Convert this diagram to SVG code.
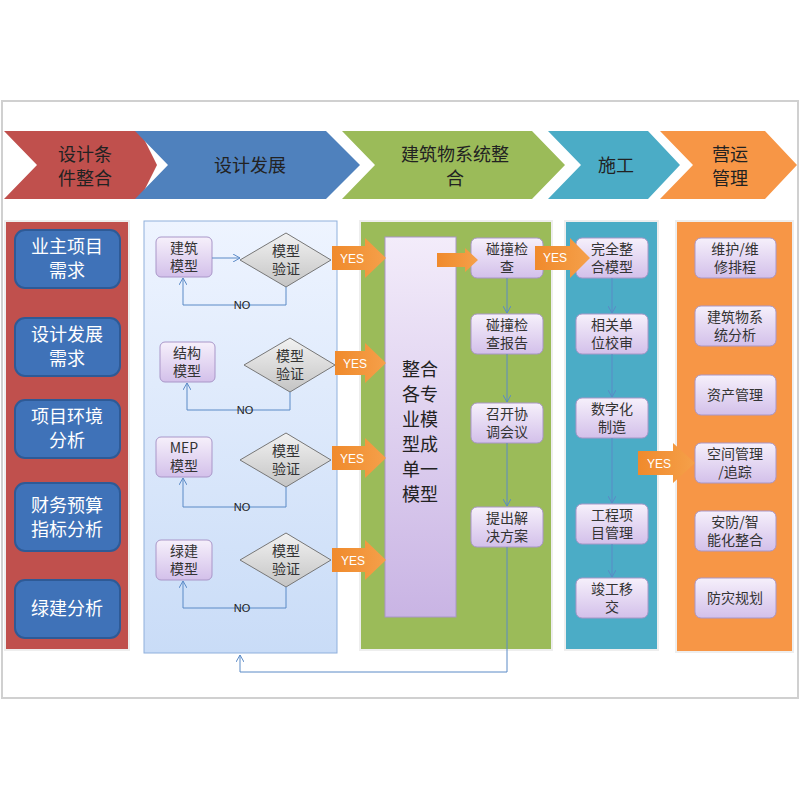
<svg xmlns="http://www.w3.org/2000/svg" width="800" height="800" viewBox="0 0 800 800">
<defs>
<linearGradient id="pg" x1="0" y1="0" x2="0" y2="1"><stop offset="0" stop-color="#f6f0fb"/><stop offset="1" stop-color="#d3c0ea"/></linearGradient>
<linearGradient id="bigg" x1="0" y1="0" x2="0" y2="1"><stop offset="0" stop-color="#f3ecfa"/><stop offset="1" stop-color="#c9b4e4"/></linearGradient>
<linearGradient id="dg" x1="0" y1="0" x2="0" y2="1"><stop offset="0" stop-color="#f2f2f2"/><stop offset="1" stop-color="#c4c4c4"/></linearGradient>
<linearGradient id="lb" x1="0" y1="0" x2="0" y2="1"><stop offset="0" stop-color="#eef4ff"/><stop offset="1" stop-color="#c9dcf7"/></linearGradient>
<linearGradient id="og" x1="0" y1="0" x2="1" y2="0"><stop offset="0" stop-color="#f08a2c"/><stop offset="1" stop-color="#f5a04a"/></linearGradient>
<marker id="ah" markerWidth="8" markerHeight="8" refX="7" refY="4" orient="auto" markerUnits="userSpaceOnUse"><path d="M0,0 L7,4 L0,8" fill="none" stroke="#5b8ac6" stroke-width="1"/></marker>
<style>
.ch{font-family:"Noto Sans CJK SC","Liberation Sans",sans-serif;font-size:18px;fill:#222;text-anchor:middle}
.pb{fill:#3f72b8;stroke:#2e5a96;stroke-width:2}
.pt{font-family:"Noto Sans CJK SC",sans-serif;font-size:18px;fill:#fff;text-anchor:middle}
.ib{fill:url(#pg);stroke:#a996c8;stroke-width:1}
.it{font-family:"Noto Sans CJK SC",sans-serif;font-size:14px;fill:#333;text-anchor:middle}
.bt{font-family:"Noto Sans CJK SC",sans-serif;font-size:18px;fill:#222;text-anchor:middle}
.dm{fill:url(#dg);stroke:#777;stroke-width:1}
.ln{fill:none;stroke:#5b8ac6;stroke-width:1}
.ya{fill:url(#og)}
.yt{font-family:"Liberation Sans",sans-serif;font-size:12px;fill:#fff;text-anchor:middle}
.no{font-family:"Liberation Sans",sans-serif;font-size:11px;fill:#222;text-anchor:middle}
</style>
</defs>
<rect width="800" height="800" fill="#fff"/>
<rect x="2" y="101" width="796" height="597" fill="#fff" stroke="#d0d0d0" stroke-width="2"/>

<g id="chevrons">
<polygon points="4,131 140,131 157,165 140,199 4,199 37,165" fill="#c0504d"/>
<text class="ch" x="85" y="161">设计条</text><text class="ch" x="85" y="185">件整合</text>
<polygon points="135,131 326,131 360,165 326,199 135,199 168,165" fill="#4f81bd"/>
<text class="ch" x="250" y="172">设计发展</text>
<polygon points="342,131 532,131 565,165 532,199 342,199 375,165" fill="#9bbb59"/>
<text class="ch" x="455" y="161">建筑物系统整</text><text class="ch" x="455" y="185">合</text>
<polygon points="548,131 648,131 680,165 648,199 548,199 581,165" fill="#4bacc6"/>
<text class="ch" x="616" y="172">施工</text>
<polygon points="660,131 765,131 797,165 765,199 660,199 693,165" fill="#f79646"/>
<text class="ch" x="730" y="161">营运</text><text class="ch" x="730" y="185">管理</text>
</g>

<g id="panels">
<rect x="5" y="221" width="124" height="429" fill="#c0504d" stroke="#eee" stroke-width="2"/>
<rect x="144" y="221" width="193" height="432" fill="url(#lb)" stroke="#8fb0dc" stroke-width="1"/>
<rect x="360" y="221" width="192" height="429" fill="#9bbb59" stroke="#eee" stroke-width="2"/>
<rect x="565" y="221" width="93" height="429" fill="#4bacc6" stroke="#eee" stroke-width="2"/>
<rect x="676" y="221" width="117" height="431" fill="#f79646" stroke="#eee" stroke-width="2"/>
</g>

<g id="req">
<rect class="pb" x="15" y="230" width="105" height="58" rx="10"/><text class="pt" x="67" y="253">业主项目</text><text class="pt" x="67" y="277">需求</text>
<rect class="pb" x="15" y="318" width="105" height="58" rx="10"/><text class="pt" x="67" y="341">设计发展</text><text class="pt" x="67" y="365">需求</text>
<rect class="pb" x="15" y="400" width="105" height="58" rx="10"/><text class="pt" x="67" y="423">项目环境</text><text class="pt" x="67" y="447">分析</text>
<rect class="pb" x="15" y="483" width="105" height="68" rx="10"/><text class="pt" x="67" y="512">财务预算</text><text class="pt" x="67" y="536">指标分析</text>
<rect class="pb" x="15" y="580" width="105" height="58" rx="10"/><text class="pt" x="67" y="615">绿建分析</text>
</g>

<g id="design">
<rect class="ib" x="156" y="237" width="56" height="40" rx="5"/><text class="it" x="184" y="253">建筑</text><text class="it" x="184" y="271">模型</text>
<polygon class="dm" points="240,260 286,233 331,260 286,287"/><text class="it" x="286" y="256">模型</text><text class="it" x="286" y="274">验证</text>
<rect class="ib" x="160" y="342" width="55" height="40" rx="5"/><text class="it" x="187" y="358">结构</text><text class="it" x="187" y="376">模型</text>
<polygon class="dm" points="244,365 290,338 335,365 290,392"/><text class="it" x="290" y="361">模型</text><text class="it" x="290" y="379">验证</text>
<rect class="ib" x="156" y="437" width="56" height="40" rx="5"/><text class="it" x="184" y="453">MEP</text><text class="it" x="184" y="471">模型</text>
<polygon class="dm" points="240,460 286,433 331,460 286,487"/><text class="it" x="286" y="456">模型</text><text class="it" x="286" y="474">验证</text>
<rect class="ib" x="156" y="540" width="56" height="40" rx="5"/><text class="it" x="184" y="556">绿建</text><text class="it" x="184" y="574">模型</text>
<polygon class="dm" points="240,560 286,533 331,560 286,587"/><text class="it" x="286" y="556">模型</text><text class="it" x="286" y="574">验证</text>
</g>

<g id="integrate">
<rect x="385" y="237" width="71" height="380" fill="url(#bigg)" stroke="#a996c8"/>
<text class="bt" x="420" y="376">整合</text><text class="bt" x="420" y="401">各专</text><text class="bt" x="420" y="426">业模</text><text class="bt" x="420" y="451">型成</text><text class="bt" x="420" y="476">单一</text><text class="bt" x="420" y="501">模型</text>
</g>

<g id="clash">
<rect class="ib" x="471" y="238" width="72" height="40" rx="6"/><text class="it" x="507" y="254">碰撞检</text><text class="it" x="507" y="272">查</text>
<rect class="ib" x="471" y="314" width="72" height="40" rx="6"/><text class="it" x="507" y="330">碰撞检</text><text class="it" x="507" y="348">查报告</text>
<rect class="ib" x="471" y="403" width="72" height="40" rx="6"/><text class="it" x="507" y="419">召开协</text><text class="it" x="507" y="437">调会议</text>
<rect class="ib" x="471" y="507" width="72" height="40" rx="6"/><text class="it" x="507" y="523">提出解</text><text class="it" x="507" y="541">决方案</text>
</g>

<g id="construct">
<rect class="ib" x="576" y="238" width="72" height="40" rx="6"/><text class="it" x="612" y="254">完全整</text><text class="it" x="612" y="272">合模型</text>
<rect class="ib" x="576" y="314" width="72" height="40" rx="6"/><text class="it" x="612" y="330">相关单</text><text class="it" x="612" y="348">位校审</text>
<rect class="ib" x="576" y="398" width="72" height="40" rx="6"/><text class="it" x="612" y="414">数字化</text><text class="it" x="612" y="432">制造</text>
<rect class="ib" x="576" y="504" width="72" height="40" rx="6"/><text class="it" x="612" y="520">工程项</text><text class="it" x="612" y="538">目管理</text>
<rect class="ib" x="576" y="578" width="72" height="40" rx="6"/><text class="it" x="612" y="594">竣工移</text><text class="it" x="612" y="612">交</text>
</g>

<g id="operate">
<rect class="ib" x="695" y="238" width="81" height="40" rx="6"/><text class="it" x="735" y="254">维护/维</text><text class="it" x="735" y="272">修排程</text>
<rect class="ib" x="695" y="306" width="81" height="40" rx="6"/><text class="it" x="735" y="322">建筑物系</text><text class="it" x="735" y="340">统分析</text>
<rect class="ib" x="695" y="375" width="81" height="40" rx="6"/><text class="it" x="735" y="400">资产管理</text>
<rect class="ib" x="695" y="443" width="81" height="40" rx="6"/><text class="it" x="735" y="459">空间管理</text><text class="it" x="735" y="477">/追踪</text>
<rect class="ib" x="695" y="511" width="81" height="40" rx="6"/><text class="it" x="735" y="527">安防/智</text><text class="it" x="735" y="545">能化整合</text>
<rect class="ib" x="695" y="578" width="81" height="40" rx="6"/><text class="it" x="735" y="603">防灾规划</text>
</g>

<g id="connectors">
<line class="ln" x1="212" y1="258" x2="240" y2="258" marker-end="url(#ah)"/>
<path class="ln" d="M286,287 V305 H183 V278" marker-end="url(#ah)"/>
<path class="ln" d="M290,392 V410 H187 V383" marker-end="url(#ah)"/>
<path class="ln" d="M286,487 V507 H183 V478" marker-end="url(#ah)"/>
<path class="ln" d="M286,587 V608 H183 V581" marker-end="url(#ah)"/>
<line class="ln" x1="507" y1="278" x2="507" y2="313" marker-end="url(#ah)"/>
<line class="ln" x1="507" y1="354" x2="507" y2="402" marker-end="url(#ah)"/>
<line class="ln" x1="507" y1="443" x2="507" y2="506" marker-end="url(#ah)"/>
<path class="ln" d="M507,547 V672 H240 V655" marker-end="url(#ah)"/>
<line class="ln" x1="612" y1="278" x2="612" y2="313" marker-end="url(#ah)"/>
<line class="ln" x1="612" y1="354" x2="612" y2="397" marker-end="url(#ah)"/>
<line class="ln" x1="612" y1="438" x2="612" y2="503" marker-end="url(#ah)"/>
<line class="ln" x1="612" y1="544" x2="612" y2="577" marker-end="url(#ah)"/>
<text class="no" x="242" y="309">NO</text><text class="no" x="245" y="414">NO</text><text class="no" x="242" y="511">NO</text><text class="no" x="242" y="612">NO</text>
<polygon class="ya" points="332,246 365,246 365,238 386,258 365,278 365,270 332,270"/><text class="yt" x="352" y="263">YES</text>
<polygon class="ya" points="335,351 365,351 365,343 386,363 365,383 365,375 335,375"/><text class="yt" x="355" y="368">YES</text>
<polygon class="ya" points="332,446 365,446 365,438 386,458 365,478 365,470 332,470"/><text class="yt" x="352" y="463">YES</text>
<polygon class="ya" points="332,548 365,548 365,540 386,560 365,580 365,572 332,572"/><text class="yt" x="353" y="565">YES</text>
<polygon class="ya" points="437,253 465,253 465,248 478,260 465,272 465,267 437,267"/>
<polygon class="ya" points="535,246 570,246 570,238 590,258 570,278 570,270 535,270"/><text class="yt" x="555" y="262">YES</text>
<polygon class="ya" points="638,451 673,451 673,443 695,463 673,483 673,475 638,475"/><text class="yt" x="659" y="468">YES</text>
</g>
</svg>
